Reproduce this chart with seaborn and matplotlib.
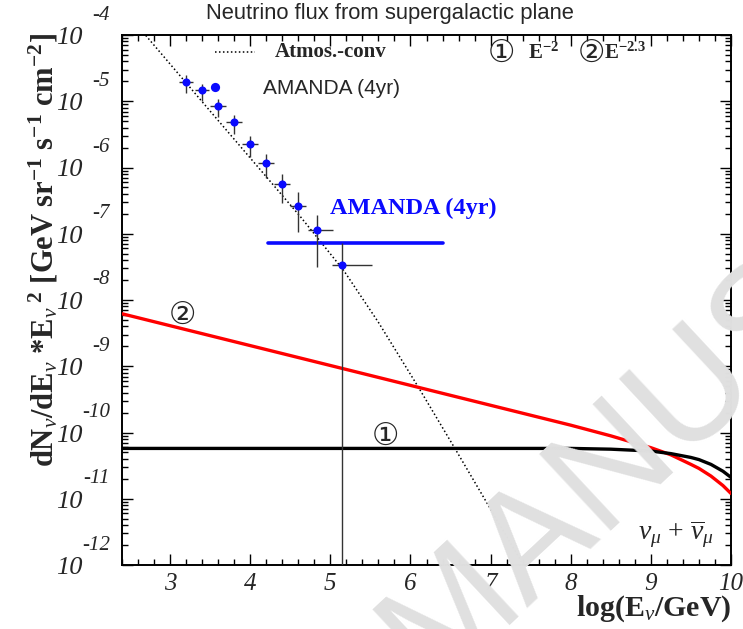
import numpy as np
import pandas as pd
import matplotlib
matplotlib.use("Agg")
import matplotlib.pyplot as plt
import seaborn as sns
from matplotlib.ticker import FixedLocator, LogLocator, NullFormatter, MultipleLocator

# ---------------- data ----------------
# atmospheric conventional neutrino flux (dotted)
atm_logE = [2.60, 3.50, 4.625, 5.166, 5.60, 6.10, 6.56, 7.42, 7.50]
atm_flux = [1.35e-4, 7.1e-6, 1.82e-7, 2.8e-8, 4.6e-9, 4.8e-10, 5.6e-11, 9.5e-13, 6.5e-13]

# model 2 : E^-2.3 (red)
e23_logE = [2.4, 8.0, 8.5, 9.0, 9.25, 9.5, 9.6, 9.75, 9.9, 10.0]
e23_flux = [6.2e-9, 1.29e-10, 8.9e-11, 5.9e-11, 4.6e-11, 3.3e-11, 2.87e-11, 2.2e-11, 1.58e-11, 1.2e-11]

# model 1 : E^-2 (black)
e2_logE = [2.4, 8.0, 8.5, 9.0, 9.25, 9.5, 9.6, 9.75, 9.9, 10.0]
e2_flux = [5.75e-11, 5.75e-11, 5.6e-11, 5.25e-11, 4.8e-11, 4.2e-11, 3.9e-11, 3.3e-11, 2.6e-11, 2.1e-11]

# AMANDA (4yr) unfolded spectrum
ama_logE = [3.2, 3.4, 3.6, 3.8, 4.0, 4.2, 4.4, 4.6, 4.83, 5.15]
ama_flux = [1.95e-5, 1.48e-5, 8.5e-6, 4.8e-6, 2.3e-6, 1.17e-6, 5.6e-7, 2.6e-7, 1.12e-7, 3.4e-8]
ama_flux_hi = [2.45e-5, 1.82e-5, 1.10e-5, 6.3e-6, 3.0e-6, 1.62e-6, 8.1e-7, 4.2e-7, 1.95e-7, 7.2e-8]
ama_flux_lo = [1.35e-5, 1.0e-5, 5.75e-6, 3.2e-6, 1.45e-6, 6.9e-7, 2.95e-7, 1.07e-7, 3.2e-8, 1e-13]
ama_xerr_lo = [0.09, 0.09, 0.1, 0.1, 0.1, 0.1, 0.1, 0.1, 0.105, 0.13]
ama_xerr_hi = [0.09, 0.09, 0.1, 0.1, 0.1, 0.1, 0.1, 0.1, 0.2, 0.37]

# AMANDA (4yr) diffuse limit (blue horizontal)
lim_logE = [4.22, 6.40]
lim_flux = [7.33e-8, 7.33e-8]

x_ticks = [3, 4, 5, 6, 7, 8, 9, 10]
y_decades = [-12, -11, -10, -9, -8, -7, -6, -5, -4]

# ---------------- style ----------------
sns.set_theme(style="ticks")
plt.rcParams["font.family"] = ["Liberation Serif", "DejaVu Sans"]
plt.rcParams["mathtext.fontset"] = "custom"
plt.rcParams["mathtext.rm"] = "Liberation Serif:bold"
plt.rcParams["mathtext.bf"] = "Liberation Serif:bold"
plt.rcParams["mathtext.it"] = "Liberation Serif:italic"
plt.rcParams["mathtext.sf"] = "Liberation Sans"

BLUE = "#0a0aff"
RED = "#ff0000"
PX = 0.72  # points per pixel at dpi 100

fig = plt.figure(figsize=(7.43, 6.29), dpi=100)
ax = fig.add_axes([122 / 743, 1 - 565 / 629, 609 / 743, 530 / 629])
ax.set_facecolor("none")

# watermark
fig.text(432 / 743, 1 - 686 / 629, "MANUSCRIPT", rotation=43, rotation_mode="anchor",
         ha="left", va="baseline", fontsize=110, color="#e0e0e0",
         family="Liberation Sans", zorder=0)

# curves
sns.lineplot(x=atm_logE, y=atm_flux, ax=ax, color="black", lw=1.1,
             linestyle=(0, (1, 1.6)), sort=False, estimator=None, zorder=3)
sns.lineplot(x=e23_logE, y=e23_flux, ax=ax, color=RED, lw=2.4,
             sort=False, estimator=None, zorder=4)
sns.lineplot(x=e2_logE, y=e2_flux, ax=ax, color="black", lw=2.4,
             sort=False, estimator=None, zorder=4)
sns.lineplot(x=lim_logE, y=lim_flux, ax=ax, color=BLUE, lw=2.6,
             sort=False, estimator=None, zorder=4)

# AMANDA points with error bars
f = np.array(ama_flux)
yerr = [f - np.array(ama_flux_lo), np.array(ama_flux_hi) - f]
ax.errorbar(ama_logE, ama_flux, yerr=yerr, xerr=[ama_xerr_lo, ama_xerr_hi],
            fmt="none", ecolor="#333333", elinewidth=1.0, capsize=0, zorder=5)
sns.scatterplot(x=ama_logE, y=ama_flux, ax=ax, color=BLUE, s=34,
                edgecolor=BLUE, linewidth=0, zorder=6)

# axes
ax.set_yscale("log")
ax.set_xlim(2.4, 10)
ax.set_ylim(1e-12, 1e-4)
ax.xaxis.set_major_locator(FixedLocator(x_ticks))
ax.xaxis.set_minor_locator(MultipleLocator(0.2))
ax.yaxis.set_major_locator(FixedLocator([10.0 ** k for k in y_decades]))
ax.yaxis.set_minor_locator(LogLocator(base=10, subs=np.arange(2, 10)))
ax.yaxis.set_major_formatter(NullFormatter())
ax.yaxis.set_minor_formatter(NullFormatter())
ax.set_xticklabels([str(t) for t in x_ticks], fontstyle="italic", fontsize=18,
                   family="Liberation Serif")
ax.tick_params(which="both", direction="in", top=True, right=True, color="black",
               width=1.0)
ax.tick_params(which="major", length=8)
ax.tick_params(which="minor", length=4)
ax.tick_params(axis="x", which="major", pad=6)
for s in ax.spines.values():
    s.set_linewidth(1.4)
    s.set_color("black")

# ROOT-like y tick labels
for k in y_decades:
    ax.annotate("10", xy=(0, 10.0 ** k), xycoords=("axes fraction", "data"),
                xytext=(-39 * PX, -3 * PX), textcoords="offset points",
                ha="right", va="center", fontsize=19, fontstyle="italic",
                family="Liberation Serif", annotation_clip=False)
    ax.annotate(f"-{abs(k)}", xy=(0, 10.0 ** k), xycoords=("axes fraction", "data"),
                xytext=(-12 * PX, 20 * PX), textcoords="offset points",
                ha="right", va="center", fontsize=15, fontstyle="italic",
                family="Liberation Serif", annotation_clip=False)

# axis titles
ax.text(1.0, -0.053, r"log(E$_{\nu}$/GeV)", transform=ax.transAxes, ha="right",
        va="top", fontsize=21.5, fontweight="bold", family="Liberation Serif")
fig.text(44 / 743, 1 - 250 / 629,
         r"dN$_{\nu}$/dE$_{\nu}$ *E$_{\nu}$$^{\ 2}$ [GeV sr$^{-1}$ s$^{-1}$ cm$^{-2}$]",
         rotation=90, ha="center", va="center", fontsize=22, fontweight="bold",
         family="Liberation Serif")
fig.text(390 / 743, 1 - 14 / 629, "Neutrino flux from supergalactic plane",
         ha="center", va="center", fontsize=15.8, family="Liberation Sans")

# legend-like annotations
ax.plot([0.1527, 0.2184], [0.968, 0.968], transform=ax.transAxes, color="black",
        lw=1.1, linestyle=(0, (1, 1.6)))
ax.text(0.251, 0.968, "Atmos.-conv", transform=ax.transAxes, ha="left", va="center",
        fontsize=15, fontweight="bold", family="Liberation Serif")
ax.scatter([0.1527], [0.902], transform=ax.transAxes, s=44, color=BLUE, linewidth=0)
ax.text(0.2315, 0.900, "AMANDA (4yr)", transform=ax.transAxes, ha="left", va="center",
        fontsize=15, family="Liberation Sans")
circ_fam = ["DejaVu Sans", "Noto Sans CJK SC"]
ax.text(0.600, 0.966, "\u2460", transform=ax.transAxes, ha="left", va="center",
        fontsize=22, family=circ_fam)
ax.text(0.667, 0.966, r"E$^{-2}$", transform=ax.transAxes, ha="left", va="center",
        fontsize=15, fontweight="bold", family="Liberation Serif")
ax.text(0.748, 0.966, "\u2461", transform=ax.transAxes, ha="left", va="center",
        fontsize=22, family=circ_fam)
ax.text(0.792, 0.966, r"E$^{-2.3}$", transform=ax.transAxes, ha="left", va="center",
        fontsize=15, fontweight="bold", family="Liberation Serif")

ax.text(5.0, 2.45e-7, "AMANDA (4yr)", ha="left", va="center", fontsize=17.5,
        fontweight="bold", color=BLUE, family="Liberation Serif")
ax.text(3.16, 5.9e-9, "\u2461", ha="center", va="center", fontsize=22, family=circ_fam)
ax.text(5.69, 8.9e-11, "\u2460", ha="center", va="center", fontsize=22, family=circ_fam)
ax.text(9.31, 2.9e-12, r"$\nu_{\mu}$ + $\overline{\nu}_{\mu}$", ha="center", va="center",
        fontsize=20, family="Liberation Serif")

fig.savefig("out.png", dpi=100, facecolor="white")
